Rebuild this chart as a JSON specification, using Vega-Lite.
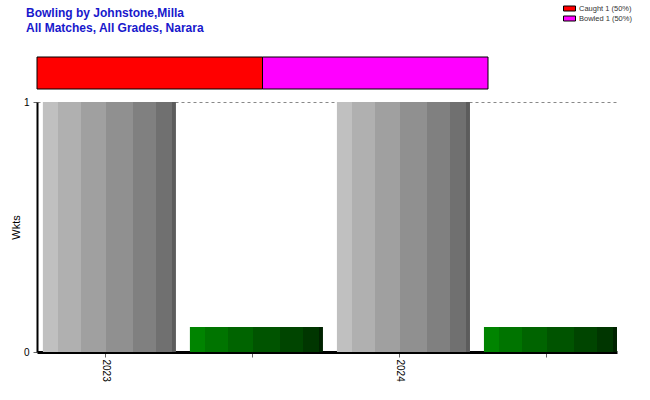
{
  "$schema": "https://vega.github.io/schema/vega-lite/v6.json",
  "background": "white",
  "padding": {"left": 10, "top": 3, "right": 5, "bottom": 5},
  "title": {
    "text": ["Bowling by Johnstone,Milla", "All Matches, All Grades, Narara"],
    "anchor": "start",
    "frame": "group",
    "font": "Liberation Sans",
    "fontSize": 12,
    "fontWeight": "bold",
    "color": "#1818cc",
    "lineHeight": 15,
    "offset": 4,
    "dx": -11,
    "dy": 36
  },
  "datasets": {
    "dismissals": [
      {"row": "Dismissals", "how": "Caught 1 (50%)", "ord": 1, "count": 1},
      {"row": "Dismissals", "how": "Bowled 1 (50%)", "ord": 2, "count": 1}
    ],
    "bars": [
      {"key": "2023|Wkts", "year": "2023", "series": "Wkts", "value": 1},
      {"key": "2023|Other", "year": "2023", "series": "Other", "value": 0.1},
      {"key": "2024|Wkts", "year": "2024", "series": "Wkts", "value": 1},
      {"key": "2024|Other", "year": "2024", "series": "Other", "value": 0.1}
    ]
  },
  "bounds": "flush",
  "spacing": 13,
  "vconcat": [
    {
      "data": {"name": "dismissals"},
      "width": 451,
      "height": 32,
      "mark": {"type": "bar", "stroke": "black", "strokeWidth": 1},
      "encoding": {
        "y": {"field": "row", "type": "nominal", "axis": null, "scale": {"paddingInner": 0, "paddingOuter": 0}},
        "x": {"field": "count", "type": "quantitative", "stack": "normalize", "axis": null},
        "order": {"field": "ord", "type": "quantitative"},
        "color": {
          "field": "how",
          "type": "nominal",
          "sort": ["Caught 1 (50%)", "Bowled 1 (50%)"],
          "scale": {"range": ["#ff0000", "#ff00ff"]},
          "legend": {
            "title": null,
            "orient": "none",
            "legendX": 527,
            "legendY": -54,
            "symbolType": "M-1.2,-0.5H1.2V0.5H-1.2Z",
            "symbolSize": 100,
            "symbolStrokeColor": "black",
            "symbolStrokeWidth": 1,
            "symbolOpacity": 1,
            "labelFont": "Liberation Sans",
            "labelFontSize": 7.5,
            "labelColor": "#333333",
            "labelOffset": 4,
            "rowPadding": 0
          }
        }
      }
    },
    {
      "data": {"name": "bars"},
      "width": 580,
      "height": 250,
      "encoding": {
        "x": {
          "field": "key",
          "type": "nominal",
          "sort": ["2023|Wkts", "2023|Other", "2024|Wkts", "2024|Other"],
          "scale": {"paddingInner": 0.095, "paddingOuter": 0.02, "align": 1},
          "axis": {
            "title": null,
            "labelExpr": "indexof(datum.value, 'Wkts') >= 0 ? split(datum.value, '|')[0] : ''",
            "labelAngle": 90,
            "labelFont": "Liberation Sans",
            "labelFontSize": 10,
            "labelColor": "black",
            "labelPadding": 2,
            "domainColor": "black",
            "domainWidth": 3,
            "tickColor": "#666666",
            "tickSize": 5,
            "tickOffset": -4,
            "grid": false
          }
        },
        "y": {
          "field": "value",
          "type": "quantitative",
          "scale": {"domain": [0, 1]},
          "axis": {
            "title": "Wkts",
            "titleFont": "Liberation Sans",
            "titleFontSize": 11,
            "titleFontWeight": "normal",
            "titleColor": "black",
            "titlePadding": 2,
            "values": [0, 1],
            "format": "d",
            "labelFont": "Liberation Sans",
            "labelFontSize": 10,
            "labelColor": "black",
            "labelPadding": 4,
            "tickSize": 4,
            "tickColor": "#666666",
            "domainColor": "black",
            "domainWidth": 2,
            "grid": true,
            "gridColor": "#888888",
            "gridDash": [3, 3],
            "gridWidth": 1
          }
        }
      },
      "layer": [
        {
          "transform": [{"filter": "datum.series === 'Wkts'"}],
          "mark": {
            "type": "bar",
            "color": {
              "gradient": "linear",
              "x1": 0, "x2": 1, "y1": 0, "y2": 0,
              "stops": [
                {"offset": 0, "color": "#c0c0c0"},
                {"offset": 0.113, "color": "#c0c0c0"},
                {"offset": 0.113, "color": "#b0b0b0"},
                {"offset": 0.289, "color": "#b0b0b0"},
                {"offset": 0.289, "color": "#a0a0a0"},
                {"offset": 0.477, "color": "#a0a0a0"},
                {"offset": 0.477, "color": "#909090"},
                {"offset": 0.678, "color": "#909090"},
                {"offset": 0.678, "color": "#808080"},
                {"offset": 0.849, "color": "#808080"},
                {"offset": 0.849, "color": "#707070"},
                {"offset": 0.967, "color": "#707070"},
                {"offset": 0.967, "color": "#5c5c5c"},
                {"offset": 1, "color": "#5c5c5c"}
              ]
            }
          }
        },
        {
          "transform": [{"filter": "datum.series === 'Other'"}],
          "mark": {
            "type": "bar",
            "color": {
              "gradient": "linear",
              "x1": 0, "x2": 1, "y1": 0, "y2": 0,
              "stops": [
                {"offset": 0, "color": "#008400"},
                {"offset": 0.113, "color": "#008400"},
                {"offset": 0.113, "color": "#007400"},
                {"offset": 0.289, "color": "#007400"},
                {"offset": 0.289, "color": "#006400"},
                {"offset": 0.477, "color": "#006400"},
                {"offset": 0.477, "color": "#005400"},
                {"offset": 0.678, "color": "#005400"},
                {"offset": 0.678, "color": "#004500"},
                {"offset": 0.849, "color": "#004500"},
                {"offset": 0.849, "color": "#003600"},
                {"offset": 0.967, "color": "#003600"},
                {"offset": 0.967, "color": "#002200"},
                {"offset": 1, "color": "#002200"}
              ]
            }
          }
        }
      ]
    }
  ],
  "config": {
    "view": {"stroke": null},
    "font": "Liberation Sans"
  }
}
